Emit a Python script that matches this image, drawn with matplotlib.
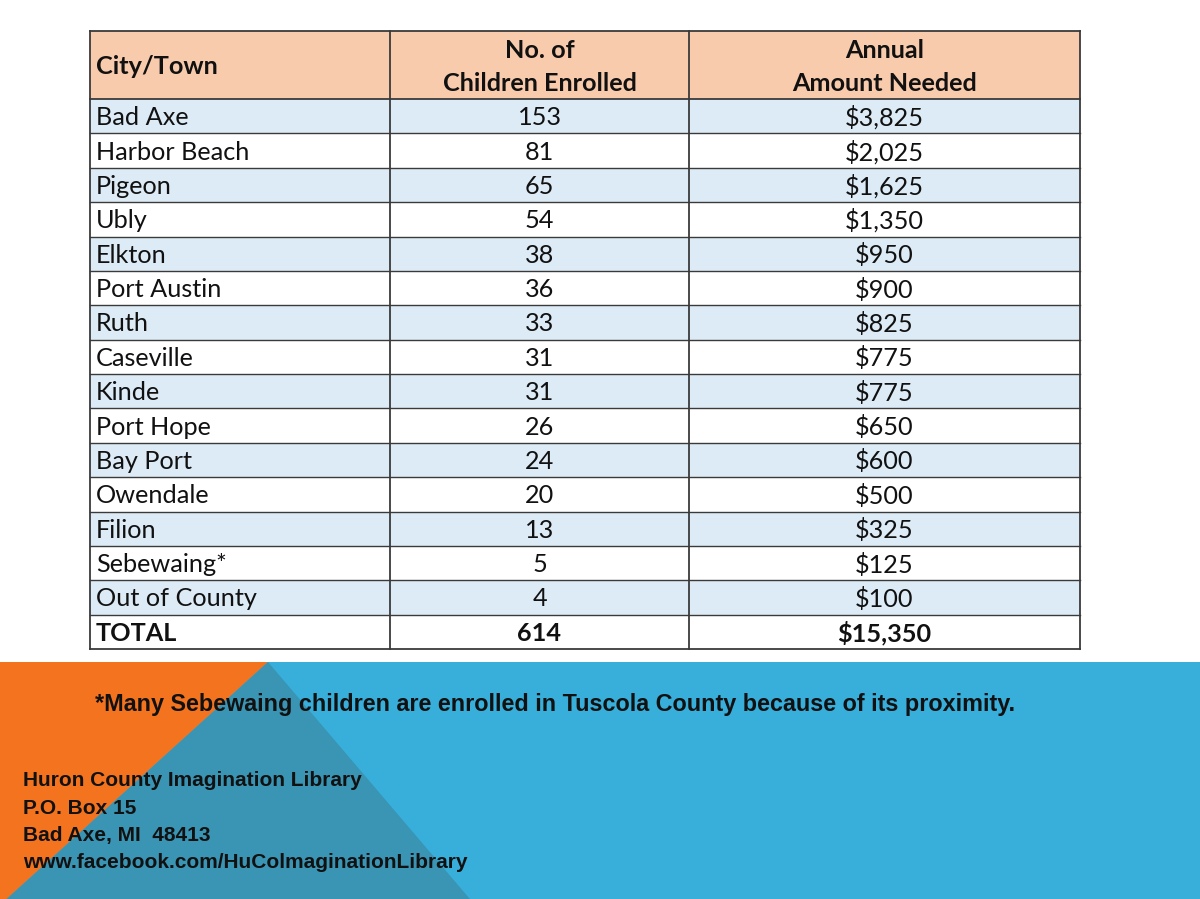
import matplotlib
matplotlib.use("Agg")
import matplotlib.pyplot as plt
from matplotlib.patches import Rectangle, Polygon
from matplotlib import font_manager

cities = ["Bad Axe", "Harbor Beach", "Pigeon", "Ubly", "Elkton", "Port Austin",
          "Ruth", "Caseville", "Kinde", "Port Hope", "Bay Port", "Owendale",
          "Filion", "Sebewaing*", "Out of County"]
children = [153, 81, 65, 54, 38, 36, 33, 31, 31, 26, 24, 20, 13, 5, 4]
amounts = [3825, 2025, 1625, 1350, 950, 900, 825, 775, 775, 650, 600, 500, 325, 125, 100]
total_label = "TOTAL"
headers = ["City/Town", "No. of\nChildren Enrolled", "Annual\nAmount Needed"]
footnote = "*Many Sebewaing children are enrolled in Tuscola County because of its proximity."
address = ["Huron County Imagination Library", "P.O. Box 15", "Bad Axe, MI  48413",
           "www.facebook.com/HuColmaginationLibrary"]

names = {f.name for f in font_manager.fontManager.ttflist}
tfont = "Lato" if "Lato" in names else "DejaVu Sans"
nfont = "Liberation Sans Narrow" if "Liberation Sans Narrow" in names else "Liberation Sans"

W, H = 1200, 899
fig = plt.figure(figsize=(12, 8.99), dpi=100)
ax = fig.add_axes([0, 0, 1, 1])
ax.set_xlim(0, W)
ax.set_ylim(H, 0)
ax.axis("off")

# bottom band
band_top = 662
ax.add_patch(Rectangle((0, band_top), W, H - band_top, color="#38AEDB", lw=0))
ax.add_patch(Polygon([(0, band_top), (268, band_top), (0, 905)], color="#F4731F", lw=0))
ax.add_patch(Polygon([(268, band_top), (0, 905), (475, 905)], color="#3A94B4", lw=0))

# table
cols = [90, 390, 689, 1080]
top, head_bot, bot = 31, 99, 649
nrows = len(cities) + 1
rh = (bot - head_bot) / nrows
header_color = "#F8CBAD"
band_color = "#DDEBF7"

ax.add_patch(Rectangle((cols[0], top), cols[-1] - cols[0], head_bot - top,
                       facecolor=header_color, lw=0))
for i in range(nrows):
    y0 = head_bot + i * rh
    fc = band_color if i % 2 == 0 and i < len(cities) else "white"
    ax.add_patch(Rectangle((cols[0], y0), cols[-1] - cols[0], rh, facecolor=fc, lw=0))

lc = "#3a3a3a"
for x in cols:
    ax.plot([x, x], [top, bot], color=lc, lw=1.3)
ax.plot([cols[0], cols[-1]], [top, top], color=lc, lw=1.3)
ax.plot([cols[0], cols[-1]], [head_bot, head_bot], color=lc, lw=1.3)
for i in range(1, nrows + 1):
    y = head_bot + i * rh
    ax.plot([cols[0], cols[-1]], [y, y], color=lc, lw=1.0 if i < nrows else 1.3)

fs = 18.2
ax.text(cols[0] + 6, 67, headers[0], ha="left", va="center",
        fontsize=fs, fontweight="bold", family=tfont, color="#111111")
for j in (1, 2):
    ax.text((cols[j] + cols[j + 1]) / 2, 67, headers[j],
            ha="center", va="center", fontsize=fs, fontweight="bold", family=tfont,
            color="#111111", linespacing=1.5)

rows = [(c, str(n), f"${a:,}") for c, n, a in zip(cities, children, amounts)]
rows.append((total_label, str(sum(children)), f"${sum(amounts):,}"))
for i, (c, n, a) in enumerate(rows):
    yc = head_bot + (i + 0.5) * rh + 1.5
    w = "bold" if i == len(rows) - 1 else "normal"
    ax.text(cols[0] + 6, yc, c, ha="left", va="center", fontsize=fs, family=tfont,
            fontweight=w, color="#111111")
    ax.text((cols[1] + cols[2]) / 2, yc, n, ha="center", va="center", fontsize=fs,
            family=tfont, fontweight=w, color="#111111")
    ax.text((cols[2] + cols[3]) / 2, yc, a, ha="center", va="center", fontsize=fs,
            family=tfont, fontweight=w, color="#111111")

ax.text(95, 705, footnote, ha="left", va="center", fontsize=16.8, family=nfont,
        fontweight="bold", color="#111111")
for k, line in enumerate(address):
    ax.text(23, 781 + k * 27.3, line, ha="left", va="center", fontsize=15,
            family=nfont, fontweight="bold", color="#111111")

fig.savefig("out.png", dpi=100)
